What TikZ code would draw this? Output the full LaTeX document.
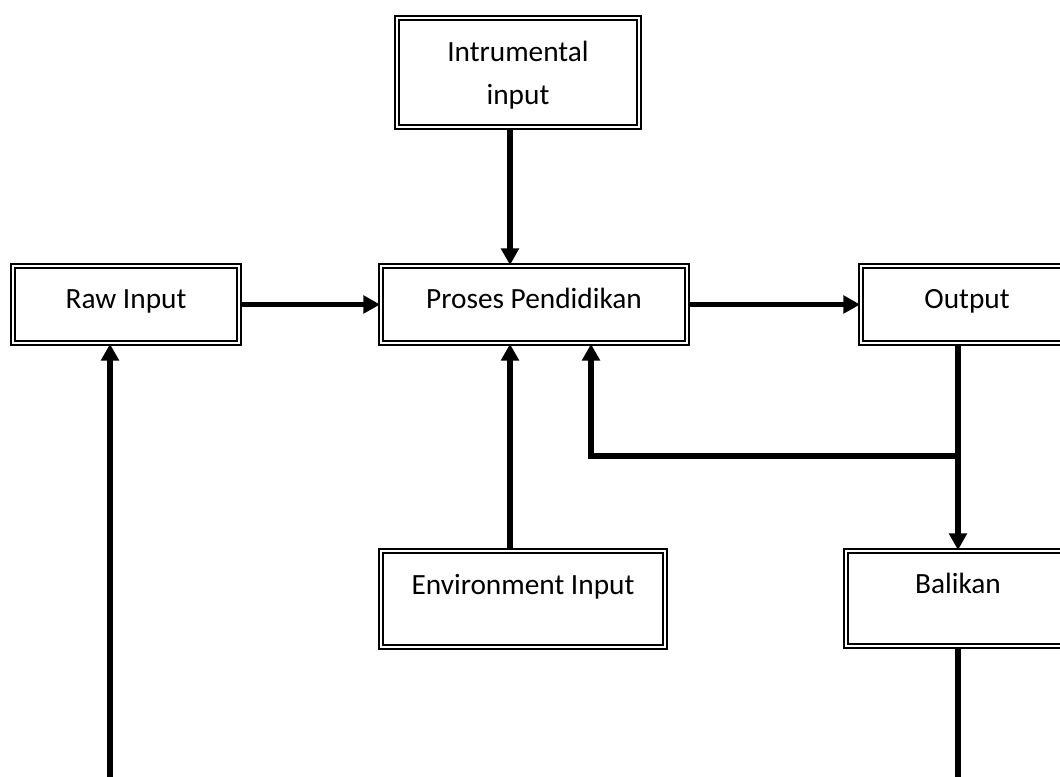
\documentclass[tikz,border=0pt]{standalone}
\usepackage{fontspec}
\setmainfont{Carlito}
\usetikzlibrary{arrows.meta}
\begin{document}
\begin{tikzpicture}[x=0.75pt,y=-0.75pt,
  dbox/.style={draw,double,line width=1.4pt,double distance=1.4pt,fill=white,
    inner sep=0pt,align=center,font=\fontsize{22}{32}\selectfont},
  one/.style={text height=15pt,text depth=9.75pt},
  conn/.style={line width=3.8pt},
  arr/.style={conn,-{Triangle[length=12.5pt,width=13pt]}}]
\useasboundingbox (0,0) rectangle (1060,776);
\clip (0,0) rectangle (1060,776);
% boxes
\node[dbox,minimum width=181.5pt,minimum height=81.75pt] (intr) at (518,72.5) {\rule{0pt}{19.5pt}Intrumental\\input};
\node[dbox,one,minimum width=169.5pt,minimum height=57.75pt] (raw) at (126,304.5) {Raw Input};
\node[dbox,one,minimum width=229.5pt,minimum height=57.75pt] (proses) at (534,304.5) {Proses Pendidikan};
\node[dbox,one,minimum width=159pt,minimum height=57.75pt] (output) at (967,304.5) {Output};
\node[dbox,minimum width=213pt,minimum height=72pt] (env) at (523,599) {Environment Input\\[-9.5pt]\mbox{}};
\node[dbox,minimum width=168pt,minimum height=71.25pt] (balikan) at (958,598.5) {Balikan\\[-9.5pt]\mbox{}};
% free ends
\coordinate (split) at (958,456);
\coordinate (bend) at (591,456);
\coordinate (bbot) at (958,790);
\coordinate (rbot) at (110,790);
% connectors
\draw[arr] ([xshift=-6pt]intr.south) -- ([xshift=-18pt]proses.north);
\draw[arr] (raw.east) -- (proses.west);
\draw[arr] (proses.east) -- (output.west);
\draw[arr] ([xshift=-6.75pt]output.south) -- (balikan.north);
\draw[arr] (split) -- (bend) -- (bend |- proses.south);
\draw[arr] ([xshift=-9.75pt]env.north) -- ([xshift=-18pt]proses.south);
\draw[conn] (balikan.south) -- (bbot);
\draw[arr] (rbot) -- ([xshift=-12pt]raw.south);
\end{tikzpicture}
\end{document}
